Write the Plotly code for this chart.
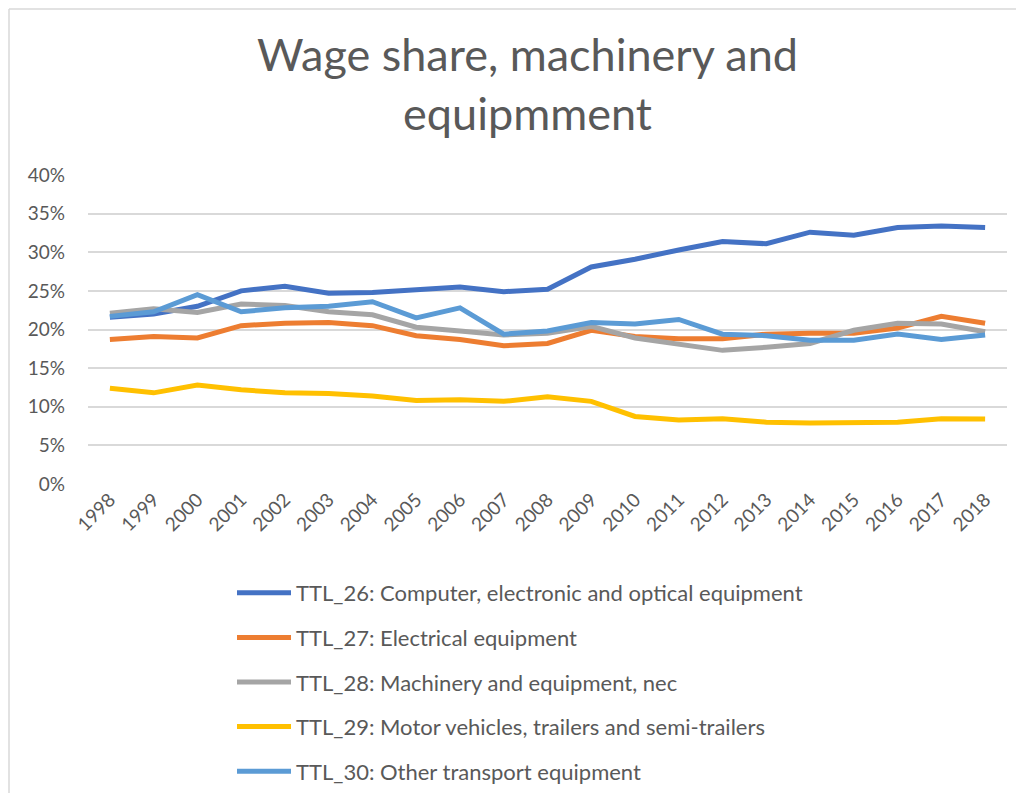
import plotly.graph_objects as go

years = [str(y) for y in range(1998, 2019)]

ttl26 = [21.6, 22.0, 23.0, 25.0, 25.6, 24.7, 24.8, 25.1, 25.5, 24.9, 25.2, 28.1, 29.1, 30.3, 31.4, 31.1, 32.6, 32.2, 33.2, 33.4, 33.2]
ttl27 = [18.7, 19.1, 18.9, 20.5, 20.8, 20.9, 20.5, 19.2, 18.7, 17.9, 18.2, 19.9, 19.1, 18.8, 18.8, 19.4, 19.5, 19.5, 20.2, 21.7, 20.8]
ttl28 = [22.1, 22.7, 22.2, 23.3, 23.1, 22.3, 21.9, 20.3, 19.8, 19.3, 19.5, 20.4, 18.9, 18.1, 17.3, 17.7, 18.2, 19.9, 20.8, 20.7, 19.7]
ttl29 = [12.4, 11.8, 12.8, 12.2, 11.8, 11.7, 11.4, 10.8, 10.9, 10.7, 11.3, 10.7, 8.75, 8.3, 8.45, 8.0, 7.9, 7.9, 8.0, 8.45, 8.4]
ttl30 = [21.7, 22.3, 24.5, 22.3, 22.8, 23.0, 23.6, 21.5, 22.8, 19.4, 19.8, 20.9, 20.7, 21.3, 19.4, 19.2, 18.6, 18.6, 19.4, 18.7, 19.3]

names = [
    "TTL_26: Computer, electronic and optical equipment",
    "TTL_27: Electrical equipment",
    "TTL_28: Machinery and equipment, nec",
    "TTL_29: Motor vehicles, trailers and semi-trailers",
    "TTL_30: Other transport equipment",
]
colors = ["#4472C4", "#ED7D31", "#A5A5A5", "#FFC000", "#5B9BD5"]
series = [ttl26, ttl27, ttl28, ttl29, ttl30]

FONT = "Lato"
GREY = "#595959"

# figure is drawn at an 8px page offset (default body margin)
W, H = 1008, 785
L, T, PW, PH = 80, 167, 919, 309
R = W - L - PW
B = H - T - PH

def px(xp):
    return (xp - 8 - L) / PW

def py(yp):
    return (T + PH - (yp - 8)) / PH

fig = go.Figure()
for i, (nm, col, vals) in enumerate(zip(names, colors, series)):
    fig.add_trace(go.Scatter(
        x=years, y=[v / 100 for v in vals], mode="lines", name=nm,
        line=dict(color=col, width=5), legendgroup=f"g{i}",
    ))

border = dict(color="#D9D9D9", width=1.5)

fig.update_layout(
    width=W, height=H,
    paper_bgcolor="white", plot_bgcolor="white",
    margin=dict(l=L, r=R, t=T, b=B, autoexpand=False),
    font=dict(family=FONT, color=GREY),
    showlegend=True,
    legend=dict(
        orientation="v", x=px(232), xanchor="left", y=py(572), yanchor="top",
        font=dict(family=FONT, size=22, color=GREY),
        tracegroupgap=13, itemwidth=54, bgcolor="rgba(0,0,0,0)",
    ),
    xaxis=dict(
        type="category", range=[-0.5, 20.5], showgrid=False, showline=False,
        ticks="", tickangle=-45, tickfont=dict(family=FONT, size=19, color=GREY),
        zeroline=False,
    ),
    yaxis=dict(
        range=[0, 0.40], dtick=0.05, tickformat=".0%", showgrid=True,
        gridcolor="#D9D9D9", gridwidth=1.5, zeroline=False, showline=False,
        ticks="", tickfont=dict(family=FONT, size=19, color=GREY),
        ticklabelstandoff=22,
    ),
    annotations=[dict(
        text="Wage share, machinery and<br>equipmment",
        xref="paper", yref="paper", x=px(527), y=py(83),
        xanchor="center", yanchor="middle", showarrow=False,
        font=dict(family=FONT, size=45, color=GREY),
    )],
    shapes=[
        dict(type="line", xref="paper", yref="paper",
             x0=px(9), x1=px(1030), y0=py(9), y1=py(9), line=border, layer="below"),
        dict(type="line", xref="paper", yref="paper",
             x0=px(9), x1=px(9), y0=py(9), y1=py(810), line=border, layer="below"),
    ],
)

fig.write_html("out.html")
